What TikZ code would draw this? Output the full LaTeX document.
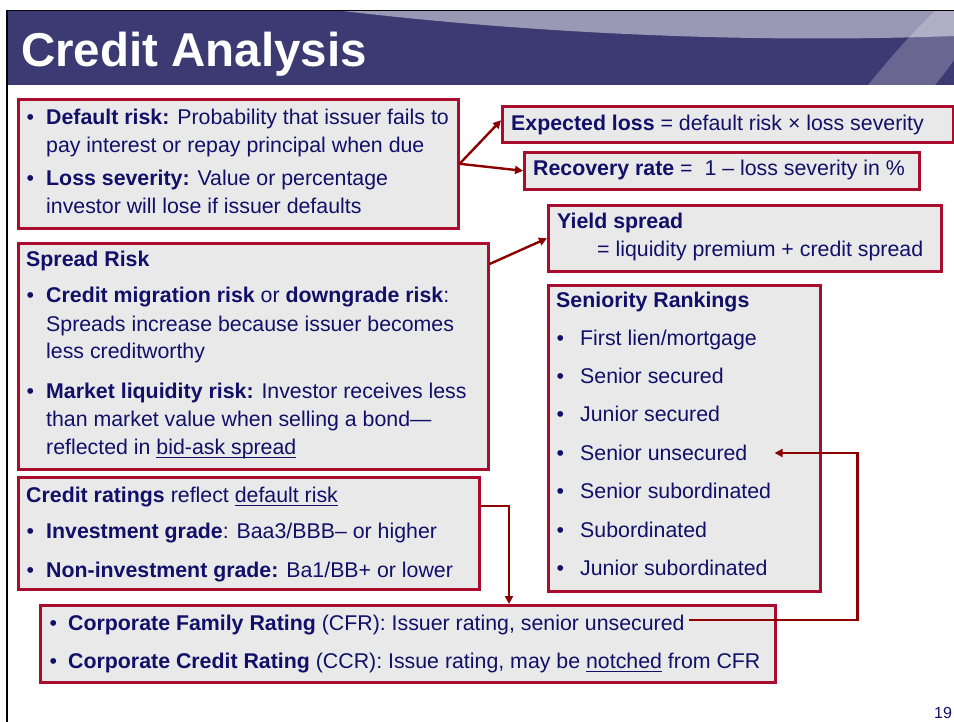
\documentclass[tikz,border=0pt]{standalone}
\usepackage{fontspec}
\setmainfont{Liberation Sans}
\usetikzlibrary{arrows.meta,calc}

\definecolor{navy}{RGB}{16,16,104}
\definecolor{band}{RGB}{60,58,114}
\definecolor{boxline}{RGB}{170,12,46}
\definecolor{boxfill}{RGB}{233,233,233}
\definecolor{arrowred}{RGB}{140,0,0}

% underline at a fixed depth below the baseline
\newsavebox\undlbox
\newcommand\undl[1]{\sbox\undlbox{#1}\rlap{\rule[-4pt]{\wd\undlbox}{1.1pt}}\usebox\undlbox}
% bullet hanging to the left of the text start
\newcommand\bul[1]{\llap{\textbullet\hspace{#1}}}

\tikzset{
  panel/.style={draw=boxline, fill=boxfill, line width=2.6pt, anchor=north west, inner sep=0pt},
  txtline/.style={anchor=base west, inner sep=0pt, text=navy,
    font=\fontsize{21.33pt}{25pt}\selectfont},
  link/.style={draw=arrowred, line width=2.4pt, -{Triangle[length=8pt,width=8pt]}},
}

\begin{document}
\begin{tikzpicture}[x=1pt, y=-1pt]
\path[use as bounding box, clip] (0,0) rectangle (954,722);
\fill[white] (0,0) rectangle (954,722);

% title band with its light swoosh and diagonal stripe
\fill[band] (8,11) rectangle (954,85);
\fill[white, opacity=0.48] (343,11) .. controls (520,32) and (740,44) .. (954,36) -- (954,11) -- cycle;
\fill[white, opacity=0.23] (868,85) .. controls (895,52) and (915,30) .. (935,11) -- (954,11) -- (954,60) .. controls (947,70) .. (935,85) -- cycle;
\draw[black, line width=1.6pt] (7,10.5) -- (954,10.5);
\draw[black, line width=2pt] (7,10) -- (7,722);
\node[anchor=base west, inner sep=0pt, text=white, font=\fontsize{47.5pt}{50pt}\selectfont\bfseries] (title) at (21,67) {Credit Analysis};

% panels
\node[panel, minimum width=440pt, minimum height=129pt] (b1) at (17,98) {};
\node[panel, minimum width=470pt, minimum height=226pt] (b2) at (17,242) {};
\node[panel, minimum width=461pt, minimum height=112pt] (b3) at (17,476) {};
\node[panel, minimum width=735pt, minimum height=77pt] (b4) at (39,604) {};
\node[panel, minimum width=451pt, minimum height=36pt] (b5) at (501,105) {};
\node[panel, minimum width=395pt, minimum height=37pt] (b6) at (523,151) {};
\node[panel, minimum width=393pt, minimum height=66pt] (b7) at (547,204) {};
\node[panel, minimum width=272pt, minimum height=306pt] (b8) at (547,284) {};

% default risk and loss severity
\node[txtline] (t11) at (46,125) {\bul{12pt}\textbf{Default risk:} Probability that issuer fails to};
\node[txtline] (t12) at (46,153) {pay interest or repay principal when due};
\node[txtline] (t13) at (46,186) {\bul{12pt}\textbf{Loss severity:} Value or percentage};
\node[txtline] (t14) at (46,214) {investor will lose if issuer defaults};

% spread risk
\node[txtline] (t20) at (26,267) {\textbf{Spread Risk}};
\node[txtline] (t21) at (46,303) {\bul{12pt}\textbf{Credit migration risk} or \textbf{downgrade risk}:};
\node[txtline] (t22) at (46,331) {Spreads increase because issuer becomes};
\node[txtline] (t23) at (46,359) {less creditworthy};
\node[txtline] (t24) at (46,398) {\bul{12pt}\textbf{Market liquidity risk:} Investor receives less};
\node[txtline] (t25) at (46,426) {than market value when selling a bond—};
\node[txtline] (t26) at (46,454) {reflected in \undl{bid-ask spread}};

% credit ratings
\node[txtline] (t30) at (26,502) {\textbf{Credit ratings} reflect \undl{default risk}};
\node[txtline] (t31) at (46,538) {\bul{12pt}\textbf{Investment grade}: Baa3/BBB– or higher};
\node[txtline] (t32) at (46,577) {\bul{12pt}\textbf{Non-investment grade:} Ba1/BB+ or lower};

% CFR / CCR
\node[txtline] (cfr) at (68,630) {\bul{11pt}\textbf{Corporate Family Rating} (CFR): Issuer rating, senior unsecured};
\node[txtline] (ccr) at (68,668) {\bul{11pt}\textbf{Corporate Credit Rating} (CCR): Issue rating, may be \undl{notched} from CFR};

% formulas
\node[txtline] (t5) at (511,131) {\textbf{Expected loss} = default risk × loss severity};
\node[txtline] (t6) at (533,176) {\textbf{Recovery rate} =\ \ 1 – loss severity in \%};
\node[txtline] (t71) at (557,229) {\textbf{Yield spread}};
\node[txtline] (t72) at (597,257) {= liquidity premium + credit spread};

% seniority rankings
\node[txtline] (t80) at (556,308) {\textbf{Seniority Rankings}};
\node[txtline] (s1) at (580,345) {\bul{16pt}First lien/mortgage};
\node[txtline] (s2) at (580,383) {\bul{16pt}Senior secured};
\node[txtline] (s3) at (580,421) {\bul{16pt}Junior secured};
\node[txtline] (su) at (580,460) {\bul{16pt}Senior unsecured};
\node[txtline] (s5) at (580,498) {\bul{16pt}Senior subordinated};
\node[txtline] (s6) at (580,537) {\bul{16pt}Subordinated};
\node[txtline] (s7) at (580,575) {\bul{16pt}Junior subordinated};

% page number
\node[anchor=base west, inner sep=0pt, text=navy, font=\fontsize{16pt}{18pt}\selectfont] (pg) at (934,718) {19};

% connectors
\draw[link] (b1.east) -- ([yshift=4pt]b5.west);
\draw[link] (b1.east) -- (b6.west);
\draw[link] ($(b2.north east)+(0,22)$) -- (b7.west);
\draw[link] ($(b3.north east)+(0,30)$) -| ($(b4.north west)+(470,0)$);
\coordinate (cfrEnd) at ($(cfr.base east)+(4,-10)$);
\coordinate (suEnd) at ($(su.base east)+(27,-7)$);
\draw[link] (cfrEnd) -| ($(suEnd)+(83,0)$) -- (suEnd);
\end{tikzpicture}
\end{document}
